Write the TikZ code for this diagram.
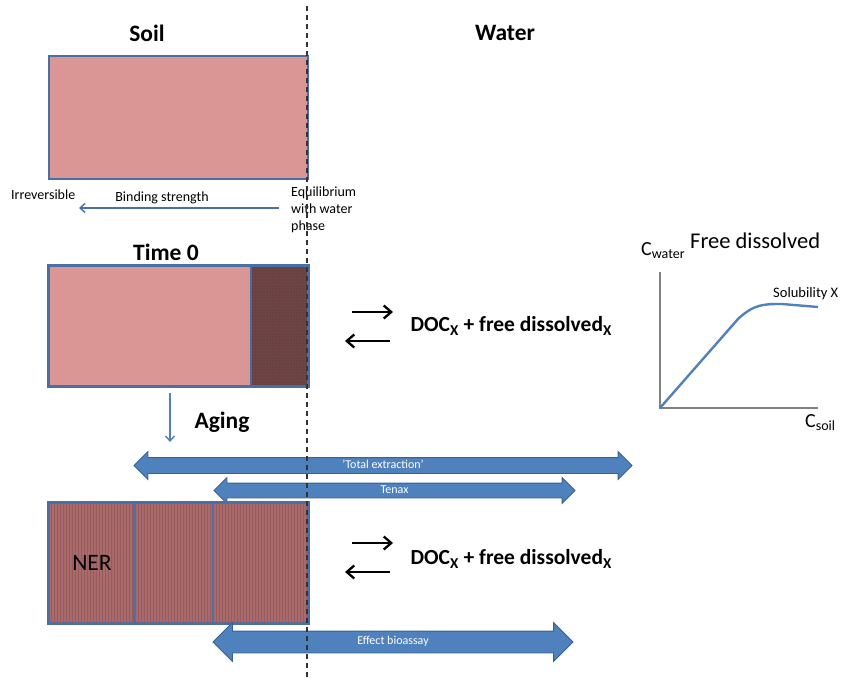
\documentclass[tikz,border=0pt]{standalone}
\usepackage{fontspec}
\setmainfont{Carlito}
\usetikzlibrary{arrows.meta,shapes.arrows,patterns}

\definecolor{salmon}{RGB}{217,150,148}
\definecolor{darkblock}{RGB}{110,68,68}
\definecolor{agedblock}{RGB}{168,106,106}
\definecolor{agedline}{RGB}{152,92,94}
\definecolor{boxblue}{RGB}{74,111,165}
\definecolor{bandblue}{RGB}{79,129,189}
\definecolor{bandedge}{RGB}{56,98,150}
\definecolor{axisgray}{RGB}{128,128,128}

\tikzset{
  soilbox/.style={draw=boxblue, line width=1.8, fill=salmon, inner sep=0, anchor=north west},
  bandarrow/.style={double arrow, draw=bandedge, fill=bandblue, line width=0.8,
    inner xsep=0, text height=7, text depth=2, double arrow tip angle=90,
    text=white, font=\fontsize{12}{14}\selectfont},
  header/.style={font=\bfseries\fontsize{23.5}{28}\selectfont},
  smalltext/.style={font=\fontsize{14}{17}\selectfont},
  eqtext/.style={font=\bfseries\fontsize{21.5}{26}\selectfont, anchor=west},
  eqarrow/.style={line width=2.3, -{Straight Barb[length=7.5, width=13, line width=2.3]}},
}

\begin{document}
\begin{tikzpicture}[x=1pt, y=-1pt]
\useasboundingbox (0,0) rectangle (841,679);

% headings
\node[header] (soil) at (147,33) {Soil};
\node[header] (water) at (505,33) {Water};

% binding-strength scale
\node[soilbox, minimum width=259, minimum height=123] (scale) at (48,55) {};
\node[smalltext, anchor=west, inner sep=0] (irrev) at (11,195) {Irreversible};
\node[smalltext] (bind) at (162,198) {Binding strength};
\node[smalltext, anchor=north west, align=left, inner sep=0] (equil) at (291,187)
  {Equilibrium\\with water\\phase};
\coordinate (bindR) at (279,208);
\coordinate (bindL) at (79,208);
\draw[boxblue, line width=1.4, -{Straight Barb[length=5, width=9]}] (bindR) -- (bindL);

% time 0
\node[header] (time) at (166,252) {Time 0};
\node[soilbox, minimum width=202, minimum height=120] (fresh) at (48,265) {};
\node[soilbox, fill=darkblock, minimum width=57, minimum height=120] (avail) at (250,265) {};
\fill[pattern=dots, pattern color=darkblock!75!black] (avail.north west) rectangle (avail.south east);
\draw[boxblue, line width=1.8] (fresh.north west) rectangle (avail.south east);

\coordinate (r1a) at (352,312);
\coordinate (r1b) at (393,312);
\coordinate (l1a) at (390,341);
\coordinate (l1b) at (345,341);
\draw[eqarrow] (r1a) -- (r1b);
\draw[eqarrow] (l1a) -- (l1b);
\node[eqtext] (doc1) at (407,326) {DOC\textsubscript{X} + free dissolved\textsubscript{X}};

% aging
\coordinate (ageTop) at (170,393);
\coordinate (ageBot) at (170,442);
\draw[bandblue, line width=1.4, -{Straight Barb[length=5, width=9]}] (ageTop) -- (ageBot);
\node[header] (aging) at (222,422) {Aging};

% extraction ranges
\node[bandarrow, inner ysep=3, minimum height=498, minimum width=27, double arrow head extend=6]
  (total) at (383,465.5) {'Total extraction'};
\node[bandarrow, inner ysep=2.5, minimum height=361, minimum width=25, double arrow head extend=5.5]
  (tenax) at (394.5,490.5) {Tenax};

% aged soil
\node[soilbox, fill=agedblock, minimum width=259, minimum height=120] (aged) at (48,502) {};
\fill[pattern=vertical lines, pattern color=agedline] (aged.north west) rectangle (aged.south east);
\coordinate (d1t) at (134,502); \coordinate (d1b) at (134,622);
\coordinate (d2t) at (213,502); \coordinate (d2b) at (213,622);
\draw[boxblue, line width=1.8] (aged.north west) rectangle (aged.south east);
\draw[boxblue, line width=2.4] (d1t) -- (d1b) (d2t) -- (d2b);
\node[font=\fontsize{23.5}{28}\selectfont] (ner) at (92,563) {NER};

\coordinate (r2a) at (352,543);
\coordinate (r2b) at (393,543);
\coordinate (l2a) at (390,572);
\coordinate (l2b) at (345,572);
\draw[eqarrow] (r2a) -- (r2b);
\draw[eqarrow] (l2a) -- (l2b);
\node[eqtext] (doc2) at (407,559) {DOC\textsubscript{X} + free dissolved\textsubscript{X}};

\node[bandarrow, inner ysep=6, minimum height=360, minimum width=38, double arrow head extend=8.5]
  (bio) at (393,642) {Effect bioassay};

% soil / water boundary
\coordinate (bTop) at (307,6);
\coordinate (bBot) at (307,679);
\draw[black!80, line width=1.3, dash pattern=on 5pt off 4pt] (bTop) -- (bBot);

% free dissolved sorption curve
\coordinate (origin) at (660,408);
\coordinate (yEnd) at (660,272);
\coordinate (xEnd) at (818,408);
\draw[axisgray, line width=2] (yEnd) -- (origin) -- (xEnd);
\draw[bandblue, line width=2.4, line join=round]
  (origin) -- (738,319) .. controls (754,304) and (764,304) .. (782,304) -- (818,307);
\node[font=\fontsize{22.5}{27}\selectfont, anchor=west, inner sep=0] (fdis) at (690,241) {Free dissolved};
\node[font=\fontsize{20}{24}\selectfont, anchor=west, inner sep=0] (cw) at (641,251)
  {C\textsubscript{water}};
\node[font=\fontsize{20}{24}\selectfont, anchor=west, inner sep=0] (cs) at (805,423)
  {C\textsubscript{soil}};
\node[font=\fontsize{14.5}{17}\selectfont, anchor=west, inner sep=0] (sol) at (773,294)
  {Solubility X};
\end{tikzpicture}
\end{document}
